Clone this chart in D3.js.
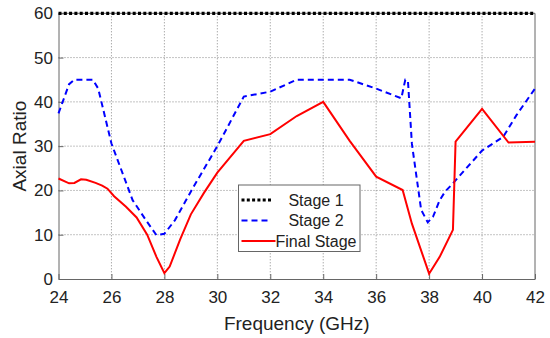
<!DOCTYPE html>
<html>
<head>
<meta charset="utf-8">
<script src="https://cdn.jsdelivr.net/npm/d3@7"></script>
<style>
  body { margin: 0; background: #fff; }
  svg text { font-family: "Liberation Sans", Arial, sans-serif; fill: #222; }
</style>
</head>
<body>
<div id="chart"></div>
<script>
// axis ticks
const xTicks = [24, 26, 28, 30, 32, 34, 36, 38, 40, 42];
const yTicks = [0, 10, 20, 30, 40, 50, 60];

// Stage 1 sits flat at 60
const stage1 = [[24, 60], [42, 60]];

// Stage 2 (blue dashed)
const stage2 = [[24, 37.4], [24.4, 44], [24.6, 45], [25.3, 45], [25.5, 43], [26, 30.6], [26.8, 17.8],
  [27.3, 13.3], [27.7, 9.9], [28, 10.2], [28.4, 13.3], [28.8, 17.6], [29.1, 20.8], [30, 30],
  [31, 41.2], [32, 42.3], [33, 45], [35, 45], [36, 43], [36.95, 40.8], [37.1, 45], [37.2, 44.8],
  [37.35, 30.5], [37.7, 15.6], [37.95, 12.8], [38.15, 14.1], [38.4, 17.8], [38.6, 19.7],
  [38.9, 21.6], [40, 29], [40.8, 32.1], [41.3, 37], [42, 43]];

// Final stage (red solid)
const finalStage = [[24, 22.7], [24.4, 21.6], [24.6, 21.7], [24.85, 22.5], [25.05, 22.4], [25.4, 21.7],
  [25.65, 21.1], [25.85, 20.4], [26.1, 18.7], [26.55, 16.3], [26.95, 13.9], [27.35, 10], [27.7, 5],
  [28, 1.3], [28.2, 2.8], [28.6, 9], [29, 14.6], [29.5, 19.5], [30, 24], [31, 31.2], [32, 32.7],
  [33, 36.8], [34, 40], [35, 31.2], [36, 23.1], [37, 20.1], [37.35, 12.5], [38, 1.2], [38.4, 5],
  [38.9, 11.1], [39, 31], [40, 38.4], [41, 30.8], [42, 31]];

const legendNames = ["Stage 1", "Stage 2", "Final Stage"];

const W = 550, H = 338;
const margin = {top: 13.3, right: 15, bottom: 59, left: 58.5};
const width = W - margin.left - margin.right,
    height = H - margin.top - margin.bottom;

const svg = d3.select("#chart").append("svg")
    .attr("width", W).attr("height", H);

const g = svg.append("g")
    .attr("transform", "translate(" + margin.left + "," + margin.top + ")");

const x = d3.scaleLinear().domain([24, 42]).range([0, width]);
const y = d3.scaleLinear().domain([0, 60]).range([height, 0]);

// grid lines
g.append("g").selectAll("line").data(xTicks.slice(1, -1)).enter().append("line")
    .attr("x1", d => x(d)).attr("x2", d => x(d))
    .attr("y1", 0).attr("y2", height)
    .attr("stroke", "#888").attr("stroke-width", 1).attr("stroke-dasharray", "1,2");
g.append("g").selectAll("line").data(yTicks.slice(1, -1)).enter().append("line")
    .attr("x1", 0).attr("x2", width)
    .attr("y1", d => y(d)).attr("y2", d => y(d))
    .attr("stroke", "#888").attr("stroke-width", 1).attr("stroke-dasharray", "1,2");

// axes (ticks inside, matlab style)
const xAxis = g.append("g").attr("transform", "translate(0," + height + ")")
    .call(d3.axisBottom(x).tickValues(xTicks).tickSizeInner(-5).tickSizeOuter(0).tickPadding(12));
const yAxis = g.append("g")
    .call(d3.axisLeft(y).tickValues(yTicks).tickSizeInner(-5).tickSizeOuter(0).tickPadding(5.5));
[xAxis, yAxis].forEach(a => {
    a.select(".domain").attr("stroke", "#666");
    a.selectAll(".tick line").attr("stroke", "#666");
    a.selectAll(".tick text").style("font-size", "17px").style("fill", "#222");
});

// box top/right
g.append("line").attr("x1", width).attr("x2", width).attr("y1", 0).attr("y2", height).attr("stroke", "#666");
g.append("line").attr("x1", 0).attr("x2", width).attr("y1", 0).attr("y2", 0).attr("stroke", "#666");

const line = d3.line().x(d => x(d[0])).y(d => y(d[1]));

g.append("path").datum(stage2).attr("d", line)
    .attr("fill", "none").attr("stroke", "#0000ff").attr("stroke-width", 2)
    .attr("stroke-dasharray", "6,4");
g.append("path").datum(finalStage).attr("d", line)
    .attr("fill", "none").attr("stroke", "#ff0000").attr("stroke-width", 2);
g.append("path").datum(stage1).attr("d", line)
    .attr("fill", "none").attr("stroke", "#000").attr("stroke-width", 3.2)
    .attr("stroke-dasharray", "3,2.3");

// axis labels
svg.append("text").attr("x", margin.left + width / 2).attr("y", 330)
    .attr("text-anchor", "middle").style("font-size", "19px").text("Frequency (GHz)");
svg.append("text")
    .attr("transform", "translate(26," + (margin.top + height / 2) + ") rotate(-90)")
    .attr("text-anchor", "middle").style("font-size", "19px").text("Axial Ratio");

// legend
const legend = svg.append("g").attr("transform", "translate(238.5,185)");
legend.append("rect").attr("width", 121.5).attr("height", 66.5)
    .attr("fill", "#fff").attr("stroke", "#666").attr("stroke-width", 1);
const styles = [
    {stroke: "#000", w: 3.2, dash: "3,2.3"},
    {stroke: "#0000ff", w: 2, dash: "6,4"},
    {stroke: "#ff0000", w: 2, dash: null}
];
legendNames.forEach((name, i) => {
    const yy = 15 + i * 20.5;
    legend.append("line").attr("x1", 3).attr("x2", i == 2 ? 37 : 33).attr("y1", yy).attr("y2", yy)
        .attr("stroke", styles[i].stroke).attr("stroke-width", styles[i].w)
        .attr("stroke-dasharray", styles[i].dash);
    legend.append("text").attr("x", 77.5).attr("y", yy + 5.5)
        .attr("text-anchor", "middle").style("font-size", "16px").text(name);
});
</script>
</body>
</html>
